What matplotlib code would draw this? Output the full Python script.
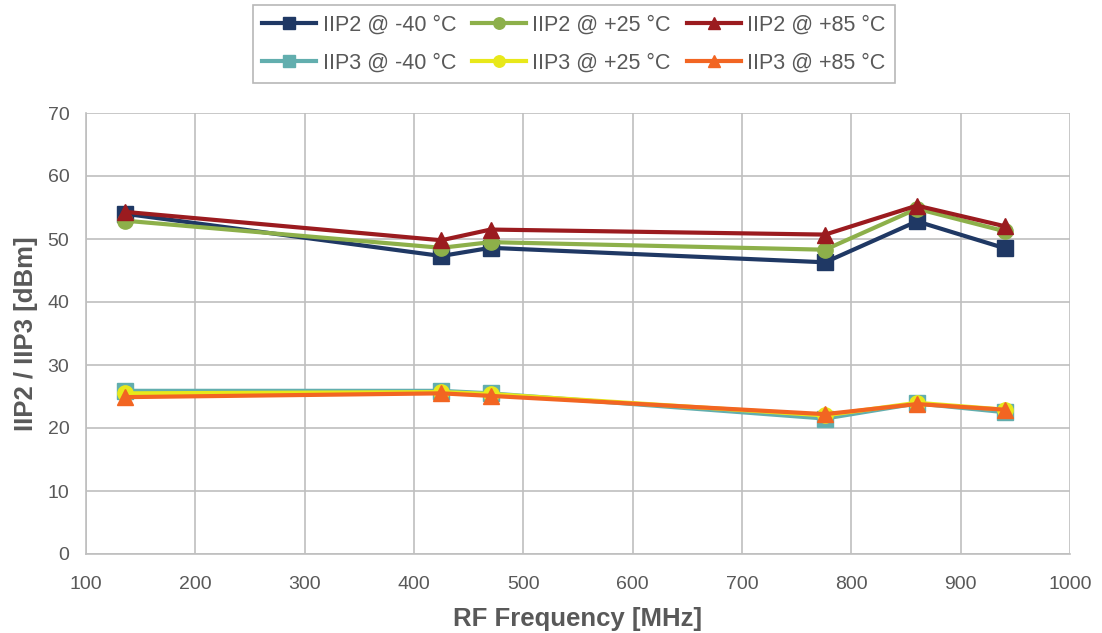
import matplotlib
matplotlib.use("Agg")
import matplotlib.pyplot as plt

freq = [136, 425, 470, 776, 860, 941]
iip2_m40 = [54.0, 47.3, 48.6, 46.3, 52.8, 48.5]
iip2_p25 = [52.9, 48.6, 49.5, 48.3, 54.8, 51.2]
iip2_p85 = [54.3, 49.8, 51.5, 50.7, 55.3, 52.0]
iip3_m40 = [25.9, 25.9, 25.5, 21.5, 23.9, 22.5]
iip3_p25 = [25.5, 25.7, 25.4, 22.0, 24.0, 22.9]
iip3_p85 = [24.9, 25.5, 25.1, 22.2, 23.8, 22.9]

series = [
    ("IIP2 @ -40 °C", iip2_m40, "#1F3864", "s"),
    ("IIP2 @ +25 °C", iip2_p25, "#8DB04A", "o"),
    ("IIP2 @ +85 °C", iip2_p85, "#9B1B1F", "^"),
    ("IIP3 @ -40 °C", iip3_m40, "#62AEAE", "s"),
    ("IIP3 @ +25 °C", iip3_p25, "#E8E81A", "o"),
    ("IIP3 @ +85 °C", iip3_p85, "#F26522", "^"),
]

plt.rcParams['font.family'] = ['Liberation Sans', 'DejaVu Sans']
fig = plt.figure(figsize=(11.02, 6.33), dpi=100)
ax = fig.add_axes([86/1102, 1-554/633, (1070-86)/1102, (554-113)/633])

handles = []
for label, vals, color, m in series:
    h, = ax.plot(freq, vals, color=color, marker=m, markersize=11, linewidth=3, label=label)
    handles.append(h)

ax.set_xlim(100, 1000)
ax.set_ylim(0, 70)
ax.set_xticks(range(100, 1001, 100))
ax.set_yticks(range(0, 71, 10))
ax.grid(True, color="#BFBFBF", linewidth=1.2)
ax.set_axisbelow(True)
for s in ["top", "right"]:
    ax.spines[s].set_visible(False)
for s in ["left", "bottom"]:
    ax.spines[s].set_color("#BFBFBF")
    ax.spines[s].set_linewidth(1.2)
ax.tick_params(colors="#595959", labelsize=14, length=0)
ax.tick_params(axis="x", pad=16)
ax.tick_params(axis="y", pad=12)
ax.set_xlabel("RF Frequency [MHz]", fontsize=18.5, fontweight="bold", color="#595959", labelpad=10)
ax.set_ylabel("IIP2 / IIP3 [dBm]", fontsize=18.5, fontweight="bold", color="#595959", labelpad=7)

# row-wise ordering for a 3-column legend
order = [0, 3, 1, 4, 2, 5]
leg = fig.legend([handles[i] for i in order], [series[i][0] for i in order],
                 loc="upper center", bbox_to_anchor=(574/1102, 1-5/633), ncol=3,
                 fontsize=15.5, frameon=True, fancybox=False, edgecolor="#A6A6A6",
                 handlelength=2.5, markerscale=0.75, columnspacing=0.75, handletextpad=0.3,
                 borderpad=0.45, labelspacing=0.78, borderaxespad=0)
leg.get_frame().set_linewidth(1.2)
for t in leg.get_texts():
    t.set_color("#595959")

fig.savefig("out.png", dpi=100)
